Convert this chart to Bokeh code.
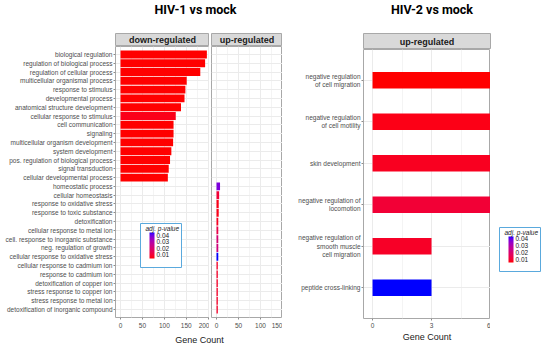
import numpy as np
from bokeh.plotting import figure
from bokeh.layouts import row, column
from bokeh.models import (ColumnDataSource, FactorRange, Range1d, LinearColorMapper,
                          ColorBar, FixedTicker, PrintfTickFormatter, AllLabels, Label)
from bokeh.transform import transform
from bokeh.core.properties import value
from bokeh.embed import file_html
from bokeh.resources import INLINE

# ---------------- data ----------------
down_terms = ["biological regulation", "regulation of biological process",
              "regulation of cellular process", "multicellular organismal process",
              "response to stimulus", "developmental process",
              "anatomical structure development", "cellular response to stimulus",
              "cell communication", "signaling", "multicellular organism development",
              "system development", "pos. regulation of biological process",
              "signal transduction", "cellular developmental process"]
down_counts = [197, 193, 182, 151, 148, 146, 138, 126, 121, 121, 120, 116, 113, 110, 108]
down_padj = [0.004, 0.004, 0.004, 0.004, 0.004, 0.004, 0.004, 0.006,
             0.004, 0.004, 0.004, 0.004, 0.004, 0.004, 0.004]

up_terms = ["homeostatic process", "cellular homeostasis", "response to oxidative stress",
            "response to toxic substance", "detoxification", "cellular response to metal ion",
            "cell. response to inorganic substance", "neg. regulation of growth",
            "cellular response to oxidative stress", "cellular response to cadmium ion",
            "response to cadmium ion", "detoxification of copper ion",
            "stress response to copper ion", "stress response to metal ion",
            "detoxification of inorganic compound"]
up_counts = [8, 6, 5, 5, 4, 4, 4, 4, 4, 3, 3, 3, 3, 3, 3]
up_padj = [0.038, 0.010, 0.006, 0.006, 0.007, 0.013, 0.020, 0.022, 0.044,
           0.008, 0.008, 0.008, 0.008, 0.008, 0.008]

hiv2_terms = ["negative regulation\nof cell migration", "negative regulation\nof cell motility",
              "skin development", "negative regulation of\nlocomotion",
              "negative regulation of\nsmooth muscle\ncell migration", "peptide cross-linking"]
hiv2_counts = [6, 6, 6, 6, 3, 3]
hiv2_padj = [0.0055, 0.007, 0.008, 0.011, 0.009, 0.0431]

hiv1_down_ticks = [0, 50, 100, 150, 200]
hiv1_down_minor = [25, 75, 125, 175]
hiv1_up_ticks = [0, 50, 100, 150]
hiv1_up_minor = [25, 75, 125]
hiv2_ticks = [0, 3, 6]
hiv2_minor = [1.5, 4.5]
legend_ticks = [0.01, 0.02, 0.03, 0.04]

# ---------------- styling helpers ----------------
FONT = "Liberation Sans"
TITLE_FONT = "Roboto"
BORDER = "#A8A8A8"
GRID = "#EBEBEB"
MINOR = "#F4F4F4"

_M = np.array([[0.4124, 0.3576, 0.1805], [0.2126, 0.7152, 0.0722], [0.0193, 0.1192, 0.9505]])
_W = _M @ np.ones(3)

def _lin(c):
    return np.where(c <= 0.04045, c / 12.92, ((c + 0.055) / 1.055) ** 2.4)

def _gam(c):
    c = np.clip(c, 0, 1)
    return np.where(c <= 0.0031308, 12.92 * c, 1.055 * np.power(c, 1 / 2.4) - 0.055)

def _f(t):
    d = 6 / 29
    return np.where(t > d ** 3, np.cbrt(t), t / (3 * d * d) + 4 / 29)

def _finv(t):
    d = 6 / 29
    return np.where(t > d, t ** 3, 3 * d * d * (t - 4 / 29))

def to_lab(h):
    rgb = np.array([int(h[i:i + 2], 16) for i in (1, 3, 5)], float) / 255
    xyz = (_M @ _lin(rgb)) / _W
    fx, fy, fz = _f(xyz)
    return np.array([116 * fy - 16, 500 * (fx - fy), 200 * (fy - fz)])

def from_lab(lab):
    L, a, b = lab
    fy = (L + 16) / 116
    xyz = _finv(np.array([fy + a / 500, fy, fy - b / 200])) * _W
    rgb = _gam(np.linalg.solve(_M, xyz))
    return "#%02x%02x%02x" % tuple(int(round(v * 255)) for v in rgb)

lo, hi = to_lab("#FF0000"), to_lab("#0000FF")
palette = [from_lab(lo + (hi - lo) * t) for t in np.linspace(0, 1, 256)]

mapper1 = LinearColorMapper(palette=palette, low=0.004, high=0.044)
mapper2 = LinearColorMapper(palette=palette, low=0.0055, high=0.0431)


def text_fig(w, h, txt, x, y, size, style, font, color="#000000"):
    p = figure(width=w, height=h, x_range=Range1d(0, w), y_range=Range1d(0, h),
               x_axis_type=None, y_axis_type=None, toolbar_location=None,
               output_backend="svg", title=None, min_border=0, outline_line_color=None)
    p.text(x=[x], y=[y], text=[txt], text_font=value(font), text_font_size=f"{size}px",
           text_font_style=style, text_align="center", text_baseline="middle",
           text_color=color)
    return p


def strip_fig(w, h, left, right, txt):
    p = figure(width=w, height=h, x_range=Range1d(0, 1), y_range=Range1d(0, 1),
               x_axis_type=None, y_axis_type=None, toolbar_location=None,
               output_backend="svg", title=None, min_border_left=left,
               min_border_right=right, min_border_top=0, min_border_bottom=0,
               background_fill_color="#D9D9D9", outline_line_color=BORDER)
    p.text(x=[0.5], y=[0.5], text=[txt], text_font=value(FONT), text_font_size="9px",
           text_font_style="bold", text_align="center", text_baseline="middle",
           text_color="#1A1A1A")
    return p


def style_axes(p):
    for ax in p.axis:
        ax.axis_line_color = None
        ax.major_tick_line_color = "#8C8C8C"
        ax.major_tick_out = 2
        ax.major_tick_in = 0
        ax.minor_tick_line_color = None
        ax.major_label_text_font = FONT
        ax.major_label_text_font_size = "6.5px"
        ax.major_label_text_color = "#4D4D4D"
        ax.major_label_standoff = 1
    p.grid.grid_line_color = GRID
    p.xgrid.minor_grid_line_color = MINOR


def add_legend(p, mapper, x, y):
    pad, bar_h = 9, 26
    cb = ColorBar(color_mapper=mapper, ticker=FixedTicker(ticks=legend_ticks),
                  formatter=PrintfTickFormatter(format="%.2f"),
                  major_label_policy=AllLabels(), width=5, height=bar_h,
                  location=(x, y), padding=pad,
                  major_label_text_font=FONT, major_label_text_font_size="6.5px",
                  major_label_text_color="#1A1A1A", label_standoff=2,
                  major_tick_line_color=None, bar_line_color=None,
                  border_line_color="#5AA9DD", border_line_width=1,
                  background_fill_color="white", orientation="vertical")
    p.add_layout(cb, "center")
    top = y + 2 * pad + bar_h
    p.add_layout(Label(x=x + 5, y=top - 1, x_units="screen", y_units="screen",
                       text="adj. p-value", text_font=FONT, text_font_size="6.5px",
                       text_font_style="italic", text_color="#1A1A1A",
                       text_baseline="top", text_align="left"))

# ---------------- HIV-1 ----------------
factors1 = list(reversed(down_terms + up_terms))
yr1 = FactorRange(factors=factors1, range_padding=0.4, range_padding_units="absolute")

pD = figure(width=209, height=284, y_range=yr1, x_range=Range1d(-11.4, 203),
            toolbar_location=None, output_backend="svg", title=None,
            min_border_left=115, min_border_right=0, min_border_top=0, min_border_bottom=12,
            outline_line_color=BORDER)
srcD = ColumnDataSource(dict(term=down_terms, count=down_counts, padj=down_padj))
pD.hbar(y="term", left=0, right="count", height=0.9, source=srcD,
        fill_color=transform("padj", mapper1), line_color=None)
pD.xaxis.ticker = FixedTicker(ticks=hiv1_down_ticks, minor_ticks=hiv1_down_minor)
style_axes(pD)
add_legend(pD, mapper1, 25, 50)

pU = figure(width=73, height=284, y_range=yr1, x_range=Range1d(-11.4, 150),
            toolbar_location=None, output_backend="svg", title=None, y_axis_location=None,
            min_border_left=2, min_border_right=0, min_border_top=0, min_border_bottom=12,
            outline_line_color=BORDER)
srcU = ColumnDataSource(dict(term=up_terms, count=up_counts, padj=up_padj))
pU.hbar(y="term", left=0, right="count", height=0.9, source=srcU,
        fill_color=transform("padj", mapper1), line_color=None)
pU.xaxis.ticker = FixedTicker(ticks=hiv1_up_ticks, minor_ticks=hiv1_up_minor)
style_axes(pU)

col1 = column(
    text_fig(282, 33, "HIV-1 vs mock", 195, 24, 12.5, "bold", TITLE_FONT),
    row(strip_fig(209, 13, 115, 0, "down-regulated"), strip_fig(73, 13, 2, 0, "up-regulated")),
    row(pD, pU),
    text_fig(282, 14, "Gene Count", 199, 5, 9, "normal", FONT, "#1A1A1A"),
)

# ---------------- HIV-2 ----------------
yr2 = FactorRange(factors=list(reversed(hiv2_terms)), range_padding=0.24,
                  range_padding_units="absolute")
pR = figure(width=208, height=295, y_range=yr2, x_range=Range1d(-0.46, 6.0),
            toolbar_location=None, output_backend="svg", title=None,
            min_border_left=81, min_border_right=0, min_border_top=0, min_border_bottom=23,
            outline_line_color=BORDER)
srcR = ColumnDataSource(dict(term=hiv2_terms, count=hiv2_counts, padj=hiv2_padj))
pR.hbar(y="term", left=0, right="count", height=0.4, source=srcR,
        fill_color=transform("padj", mapper2), line_color=None)
pR.xaxis.ticker = FixedTicker(ticks=hiv2_ticks, minor_ticks=hiv2_minor)
style_axes(pR)
pR.xaxis.major_label_standoff = 0
pR.xaxis.axis_label = "Gene Count"
pR.xaxis.axis_label_text_font = FONT
pR.xaxis.axis_label_text_font_size = "9px"
pR.xaxis.axis_label_text_font_style = "normal"
pR.xaxis.axis_label_text_color = "#1A1A1A"
pR.xaxis.axis_label_standoff = 1

pL = figure(width=59, height=295, x_range=Range1d(0, 1), y_range=Range1d(0, 1),
            x_axis_type=None, y_axis_type=None, toolbar_location=None,
            output_backend="svg", title=None, min_border_left=0, min_border_right=0,
            min_border_top=0, min_border_bottom=23, outline_line_color=None)
add_legend(pL, mapper2, 9, 47)

col2 = column(
    text_fig(267, 33, "HIV-2 vs mock", 144, 24, 12.5, "bold", TITLE_FONT),
    strip_fig(267, 16, 81, 59, "up-regulated"),
    row(pR, pL),
)

layout = row(col1, col2)
open("out.html", "w").write(file_html(layout, INLINE))
